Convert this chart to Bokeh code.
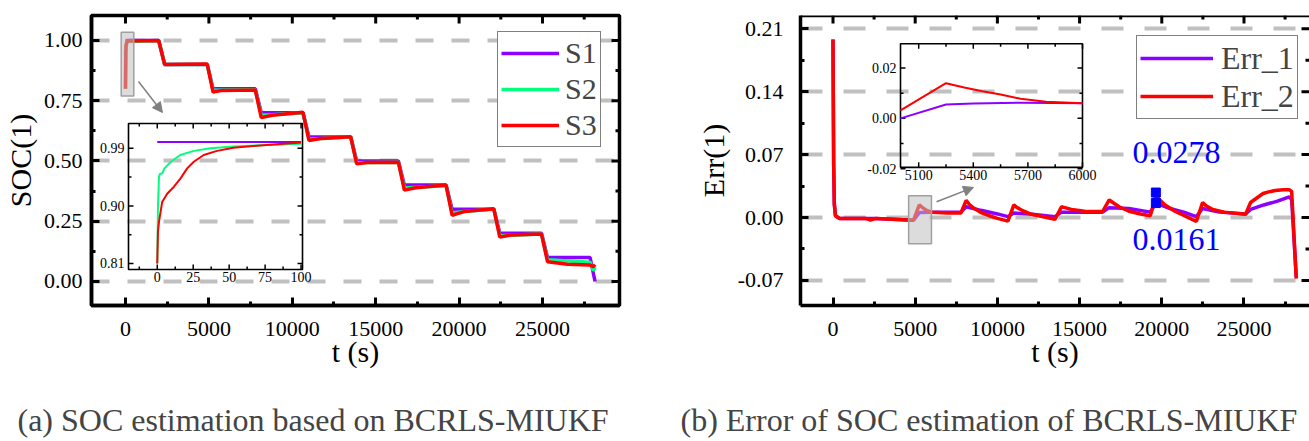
import numpy as np
from bokeh.plotting import figure
from bokeh.layouts import row
from bokeh.models import (Range1d, FixedTicker, NumeralTickFormatter, Arrow, NormalHead,
                          Title, Span)
from bokeh.embed import file_html
from bokeh.resources import INLINE
from bokeh.core.properties import value

FONT = "Liberation Serif"
PURPLE = "#8c00ff"
GREEN = "#00ff7f"
RED = "#ff0000"
BLUE = "#0000ff"
GRID = "#c0c0c0"

# ---------------- data: panel (a) SOC ----------------
s1_t = [0, 1990, 2350, 4900, 5250, 7780, 8140, 10640, 11000, 13500, 13860, 16360, 16720,
        19220, 19580, 22080, 22440, 24940, 25300, 27850, 28150]
s1 = [1.0, 1.0, 0.9, 0.9, 0.8, 0.8, 0.7, 0.7, 0.6, 0.6, 0.5, 0.5, 0.4, 0.4, 0.3, 0.3,
      0.2, 0.2, 0.1, 0.1, 0.0]
s2_t = [0, 5, 100, 1990, 2350, 4900, 5250, 7780, 8140, 8800, 10640, 11000, 13500, 13860,
        16360, 16720, 19220, 19580, 20300, 22080, 22440, 24940, 25300, 27850, 28050, 28150]
s2 = [0.80, 0.96, 0.996, 1.0, 0.9, 0.9, 0.794, 0.796, 0.69, 0.692, 0.70, 0.59, 0.60, 0.493,
      0.495, 0.388, 0.397, 0.284, 0.29, 0.30, 0.19, 0.197, 0.09, 0.08, 0.045, 0.06]
s3_t = [0, 30, 100, 1990, 2350, 4900, 5250, 5800, 7780, 8140, 8800, 10640, 11000, 11700,
        13500, 13860, 14500, 16360, 16720, 17400, 19220, 19580, 20300, 22080, 22440, 23100,
        24940, 25300, 26500, 27850, 28050, 28150]
s3 = [0.80, 0.98, 0.998, 1.0, 0.90, 0.902, 0.786, 0.793, 0.795, 0.68, 0.69, 0.702, 0.585,
      0.593, 0.601, 0.488, 0.494, 0.495, 0.379, 0.389, 0.40, 0.275, 0.29, 0.302, 0.184,
      0.193, 0.197, 0.082, 0.072, 0.068, 0.062, 0.070]

# inset (a): first 100 s
ins_s1_t = [0, 100]
ins_s1 = [1.0, 1.0]
ins_s2_t = [0, 0.5, 1.2, 1.8, 3.5, 5, 9.5, 16, 25.5, 37, 53, 76, 100]
ins_s2 = [0.81, 0.90, 0.945, 0.950, 0.951, 0.9586, 0.969, 0.9795, 0.986, 0.990, 0.993,
          0.9953, 0.997]
ins_s3_t = [0, 0.5, 1.2, 3.4, 6.9, 11.6, 16.2, 20.8, 25.4, 32.3, 41.6, 53, 76, 100]
ins_s3 = [0.81, 0.86, 0.875, 0.906, 0.919, 0.930, 0.943, 0.9586, 0.969, 0.9795, 0.986,
          0.991, 0.9953, 0.999]

soc_ticks = [0.0, 0.25, 0.5, 0.75, 1.0]
soc_minor = [0.125, 0.375, 0.625, 0.875]
t_ticks = [0, 5000, 10000, 15000, 20000, 25000]
t_minor = [2500, 7500, 12500, 17500, 22500, 27500]
ins_a_xticks = [0, 25, 50, 75, 100]
ins_a_xlabels = ["0", "25", "50", "75", "100"]
ins_a_xminor = [-12.5, 12.5, 37.5, 62.5, 87.5]
ins_a_yticks = [0.81, 0.90, 0.99]
ins_a_ylabels = ["0.81", "0.90", "0.99"]
ins_a_yminor = [0.855, 0.945]

# ---------------- data: panel (b) error ----------------
e2_t = [0, 40, 80, 150, 400, 1990, 2280, 2600, 4900, 5250, 5450, 5700, 6000, 7000, 7780,
        8100, 8300, 8600, 9000, 9500, 10000, 10640, 11000, 11200, 11500, 12000, 12500,
        13500, 13900, 14100, 14500, 15300, 16400, 16800, 17000, 17400, 18000, 18700, 19300,
        19650, 19850, 20200, 20800, 21500, 22100, 22480, 22700, 23100, 23800, 25100, 25400,
        25800, 26160, 26500, 26900, 27400, 27750, 27900, 28180]
e2 = [0.198, 0.06, 0.015, 0.002, -0.001, -0.001, -0.003, -0.001, -0.003, 0.014, 0.011,
      0.0078, 0.006, 0.005, 0.005, 0.019, 0.0145, 0.010, 0.0055, 0.002, -0.001, -0.004,
      0.014, 0.011, 0.008, 0.004, 0.002, -0.002, 0.012, 0.011, 0.009, 0.007, 0.0067, 0.0196,
      0.017, 0.012, 0.007, 0.004, 0.002, 0.0245, 0.020, 0.014, 0.007, 0.001, -0.0044,
      0.0167, 0.013, 0.009, 0.006, 0.0037, 0.0167, 0.022, 0.0267, 0.0285, 0.030, 0.031,
      0.031, 0.029, -0.068]
e1_t = [0, 40, 80, 150, 400, 1990, 2600, 4900, 5250, 6000, 7780, 8100, 9000, 10000, 10640,
        11000, 12000, 13500, 13900, 15000, 16400, 16800, 18000, 19300, 19650, 20500, 21500,
        22100, 22480, 23500, 25100, 25400, 26200, 27000, 27750, 27900, 28180]
e1 = [0.198, 0.06, 0.015, 0.002, -0.001, -0.001, -0.001, -0.003, 0.0055, 0.006, 0.006,
      0.012, 0.008, 0.004, 0.001, 0.005, 0.004, 0.001, 0.006, 0.006, 0.006, 0.011, 0.010,
      0.006, 0.0161, 0.010, 0.005, 0.001, 0.010, 0.006, 0.004, 0.009, 0.014, 0.018, 0.023,
      0.020, -0.066]

ins_e2_t = [5000, 5250, 5350, 5450, 5550, 5660, 5800, 6000]
ins_e2 = [0.0032, 0.014, 0.0123, 0.0108, 0.0095, 0.0078, 0.0066, 0.0060]
ins_e1_t = [5000, 5250, 5400, 5660, 6000]
ins_e1 = [0.0, 0.0055, 0.0059, 0.0062, 0.0060]

err_ticks = [-0.07, 0.0, 0.07, 0.14, 0.21]
err_minor = [-0.035, 0.035, 0.105, 0.175]
ins_b_xticks = [5100, 5400, 5700, 6000]
ins_b_xlabels = ["5100", "5400", "5700", "6000"]
ins_b_xminor = [5250, 5550, 5850]
ins_b_yticks = [-0.02, 0.0, 0.02]
ins_b_ylabels = ["-0.02", "0.00", "0.02"]
ins_b_yminor = [-0.01, 0.01]

mark_t = [19640, 19640]
mark_v = [0.0278, 0.0161]
mark_text = ["0.0278", "0.0161"]

# ---------------- layout / style constants ----------------
A_XR = (-2038, 29616)
A_YR = (-0.0996, 1.1037)
B_XR = (-1977, 28985)
B_YR = (-0.0979, 0.2248)


def style_axis(ax, ticker, standoff):
    ax.ticker = ticker
    ax.axis_line_width = 3.5
    ax.axis_line_color = "black"
    ax.major_tick_in = 8
    ax.major_tick_out = 0
    ax.minor_tick_in = 4
    ax.minor_tick_out = 0
    ax.major_tick_line_width = 3
    ax.minor_tick_line_width = 3
    ax.major_tick_line_color = "black"
    ax.minor_tick_line_color = "black"
    ax.major_label_text_font = FONT
    ax.major_label_text_color = "black"
    ax.major_label_text_font_size = "22px"
    ax.major_label_standoff = standoff
    ax.axis_label_text_font = FONT
    ax.axis_label_text_font_style = "normal"
    ax.axis_label_text_font_size = "30px"
    ax.axis_label_text_color = "black"


def mirror_ticks(p, xr, yr, xt, xm, yt, ym):
    tk = dict(length_units="screen", line_color="black", line_width=3)
    p.ray(x=xt, y=[yr[1]] * len(xt), length=8, angle=-np.pi / 2, **tk)
    p.ray(x=xm, y=[yr[1]] * len(xm), length=4, angle=-np.pi / 2, **tk)
    p.ray(x=[xr[1]] * len(yt), y=yt, length=8, angle=np.pi, **tk)
    p.ray(x=[xr[1]] * len(ym), y=ym, length=4, angle=np.pi, **tk)


def make_fig(fw, xr, yr, xt, xm, yt, ym, ylabel, bl, br, bt, ystand, ylabstand, dash):
    p = figure(frame_width=fw, frame_height=290, x_range=Range1d(*xr),
               y_range=Range1d(*yr), output_backend="svg", toolbar_location=None,
               title=None, min_border_left=bl, min_border_right=br, min_border_top=bt,
               min_border_bottom=10)
    p.outline_line_color = None
    p.background_fill_color = "white"
    p.xgrid.visible = False
    p.ygrid.ticker = FixedTicker(ticks=yt)
    p.ygrid.grid_line_color = GRID
    p.ygrid.grid_line_width = 4
    p.ygrid.grid_line_dash = dash
    style_axis(p.xaxis[0], FixedTicker(ticks=xt, minor_ticks=xm), 16)
    p.xaxis[0].axis_label = "t (s)"
    p.xaxis[0].axis_label_standoff = -4
    style_axis(p.yaxis[0], FixedTicker(ticks=yt, minor_ticks=ym), ystand)
    p.yaxis[0].formatter = NumeralTickFormatter(format="0.00")
    p.yaxis[0].axis_label = ylabel
    p.yaxis[0].axis_label_standoff = ylabstand
    return p


def draw_inset(p, xsrc, ysrc, xtgt, ytgt, xt, xl, xm, yt, yl, ym):
    sub = p.subplot(x_source=Range1d(*xsrc), y_source=Range1d(*ysrc),
                    x_target=Range1d(*xtgt), y_target=Range1d(*ytgt))
    sub.quad(left=[xsrc[0]], right=[xsrc[1]], bottom=[ysrc[0]], top=[ysrc[1]],
             fill_color=None, line_color="black", line_width=1.6)
    tk = dict(length_units="screen", line_color="black", line_width=1.5)
    sub.ray(x=xt, y=[ysrc[0]] * len(xt), length=5, angle=np.pi / 2, **tk)
    sub.ray(x=xt, y=[ysrc[1]] * len(xt), length=5, angle=-np.pi / 2, **tk)
    sub.ray(x=xm, y=[ysrc[0]] * len(xm), length=3, angle=np.pi / 2, **tk)
    sub.ray(x=xm, y=[ysrc[1]] * len(xm), length=3, angle=-np.pi / 2, **tk)
    sub.ray(x=[xsrc[0]] * len(yt), y=yt, length=5, angle=0, **tk)
    sub.ray(x=[xsrc[1]] * len(yt), y=yt, length=5, angle=np.pi, **tk)
    sub.ray(x=[xsrc[0]] * len(ym), y=ym, length=3, angle=0, **tk)
    sub.ray(x=[xsrc[1]] * len(ym), y=ym, length=3, angle=np.pi, **tk)
    sub.text(x=xt, y=[ysrc[0]] * len(xt), text=xl, text_align="center",
             text_baseline="top", y_offset=3, text_font=value(FONT),
             text_font_size="14px", text_color="black")
    sub.text(x=[xsrc[0]] * len(yt), y=yt, text=yl, text_align="right",
             text_baseline="middle", x_offset=-4, text_font=value(FONT),
             text_font_size="14px", text_color="black")
    return sub


def style_legend(lg, loc, fs, gw, gh, standoff):
    lg.location = loc
    lg.label_text_font = FONT
    lg.label_text_font_size = fs
    lg.glyph_width = gw
    lg.glyph_height = gh
    lg.label_height = gh
    lg.label_standoff = standoff
    lg.spacing = 0
    lg.padding = 3
    lg.margin = 0
    lg.border_line_color = "black"
    lg.border_line_width = 1
    lg.background_fill_alpha = 1


def caption(text, offset):
    return Title(text=text, align="left", offset=offset, vertical_align="top",
                 text_font=FONT, text_font_size="32px", text_font_style="normal",
                 standoff=62)


# ================= panel (a) =================
pa = make_fig(528, A_XR, A_YR, t_ticks, t_minor, soc_ticks, soc_minor, "SOC(1)",
              91, 41, 14, 9, 4, "18 18")
pa.outline_line_color = "black"
pa.outline_line_width = 3.5
mirror_ticks(pa, A_XR, A_YR, t_ticks, t_minor, soc_ticks, soc_minor)
pa.line(s1_t, s1, line_color=PURPLE, line_width=3.5, legend_label="S1")
pa.line(s2_t, s2, line_color=GREEN, line_width=3.5, legend_label="S2")
pa.line(s3_t, s3, line_color=RED, line_width=3.5, legend_label="S3")
pa.quad(left=[-258], right=[498], bottom=[0.770], top=[1.034], fill_color="#c0c0c0",
        fill_alpha=0.55, line_color="#a0a0a0", line_width=1.5)
pa.add_layout(Arrow(end=NormalHead(size=10, fill_color="#808080", line_color="#808080"),
                    x_start=779, y_start=0.830, x_end=2218, y_end=0.701,
                    line_color="#808080", line_width=1.5))
sa = draw_inset(pa, (-20, 101), (0.8006, 1.0288), (180, 10612), (0.0498, 0.6556),
                ins_a_xticks, ins_a_xlabels, ins_a_xminor,
                ins_a_yticks, ins_a_ylabels, ins_a_yminor)
sa.line(ins_s1_t, ins_s1, line_color=PURPLE, line_width=2)
sa.line(ins_s2_t, ins_s2, line_color=GREEN, line_width=2)
sa.line(ins_s3_t, ins_s3, line_color=RED, line_width=2)
style_legend(pa.legend[0], (406, 158), "30px", 58, 36, 6)
pa.add_layout(caption("(a) SOC estimation based on BCRLS-MIUKF", -74), "below")

# ================= panel (b) =================
pb = make_fig(509, B_XR, B_YR, t_ticks, t_minor, err_ticks, err_minor, "Err(1)",
              140, 0, 15, 17, 5, "22 21")
pb.add_layout(Span(location=B_YR[1], dimension="width", line_color="black",
                   line_width=3.5))
mirror_ticks(pb, B_XR, B_YR, t_ticks, t_minor, err_ticks, err_minor)
pb.line(e1_t, e1, line_color=PURPLE, line_width=3.5, legend_label="Err_1")
pb.line(e2_t, e2, line_color=RED, line_width=3.5, legend_label="Err_2")
pb.scatter(mark_t, mark_v, marker="square", size=9, fill_color=BLUE, line_color=BLUE)
pb.text(x=[20894, 20894], y=[0.0722, -0.0249], text=mark_text, text_align="center",
        text_baseline="middle", text_font=value(FONT), text_font_size="32px",
        text_color=BLUE)
pb.quad(left=[4600], right=[5990], bottom=[-0.0293], top=[0.0242], fill_color="#c0c0c0",
        fill_alpha=0.55, line_color="#a0a0a0", line_width=1.5)
pb.add_layout(Arrow(end=NormalHead(size=10, fill_color="#808080", line_color="#808080"),
                    x_start=6300, y_start=0.0175, x_end=8550, y_end=0.0335,
                    line_color="#808080", line_width=1.5))
sb = draw_inset(pb, (5000, 6000), (-0.0195, 0.0297), (4106, 15176), (0.0558, 0.1934),
                ins_b_xticks, ins_b_xlabels, ins_b_xminor,
                ins_b_yticks, ins_b_ylabels, ins_b_yminor)
sb.line(ins_e1_t, ins_e1, line_color=PURPLE, line_width=2)
sb.line(ins_e2_t, ins_e2, line_color=RED, line_width=2)
style_legend(pb.legend[0], (336, 186), "32px", 73, 38, 8)
pb.add_layout(caption("(b) Error of SOC estimation of BCRLS-MIUKF", -120), "below")

layout = row(pa, pb, spacing=0)
open("out.html", "w").write(file_html(layout, INLINE))
